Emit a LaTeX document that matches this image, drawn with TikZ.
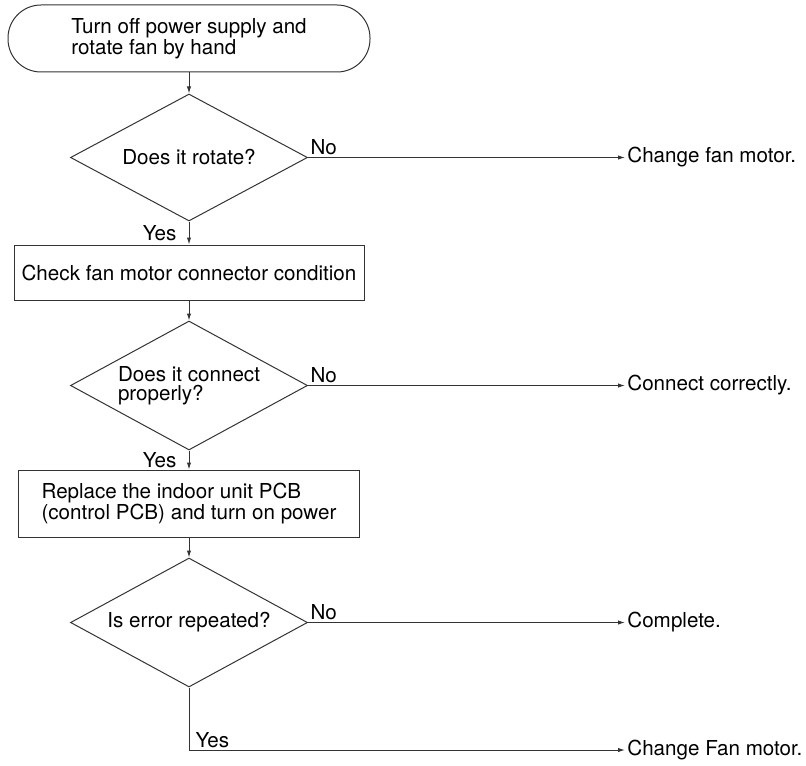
\documentclass[tikz,border=0pt]{standalone}
\usepackage{fontspec}
\setmainfont{TeX Gyre Heros}
\usetikzlibrary{arrows.meta, positioning, shapes.geometric}
\definecolor{flowink}{HTML}{333333}
\tikzset{
  termbox/.style={draw=flowink, rounded corners=16.5pt, align=left,
    minimum height=33.5pt, minimum width=181pt, inner sep=0pt, line width=0.5pt},
  procbox/.style={draw=flowink, align=left,
    minimum height=27.5pt, minimum width=175pt, inner sep=0pt, line width=0.5pt},
  decbox/.style={diamond, draw=flowink, aspect=1.84, align=left,
    minimum height=64.5pt, minimum width=118.5pt, inner sep=0pt, line width=0.5pt},
  flow/.style={-{Latex[length=3.5pt, width=2.2pt]}, draw=flowink, line width=0.5pt},
  lbl/.style={inner sep=1pt},
  outtxt/.style={anchor=west, inner sep=1pt}
}
\begin{document}
\begin{tikzpicture}[x=0.5pt, y=-0.5pt, node distance=10pt, font=\fontsize{10.3}{9.6}\selectfont]
\useasboundingbox (0,0) rectangle (806,765);
\node[termbox] (start) at (189,38.5) {Turn off power supply and\\rotate fan by hand};
\node[decbox, minimum height=63.5pt, below=10.5pt of start] (rotq) {Does it rotate?};
\node[procbox, below=11.5pt of rotq] (chk) {Check fan motor connector condition};
\node[decbox, below=10pt of chk] (conq) {Does it connect\\properly?};
\node[procbox, minimum width=170.5pt, minimum height=33.5pt, below=9.5pt of conq] (pcb) {Replace the indoor unit PCB\\(control PCB) and turn on power};
\node[decbox, below=10pt of pcb] (errq) {Is error repeated?};
\coordinate (rx) at (625,0);
\coordinate (corner) at (189,750);
\node[outtxt] (chgfan) at (rotq.east -| rx) {Change fan motor.};
\node[outtxt] (fixcon) at (conq.east -| rx) {Connect correctly.};
\node[outtxt] (done) at (errq.east -| rx) {Complete.};
\node[outtxt] (newfan) at (corner -| rx) {Change Fan motor.};
\draw[flow] (start) -- (rotq);
\draw[flow] (rotq) -- node[lbl, left=5pt]{Yes} (chk);
\draw[flow] (rotq.east) -- node[lbl, pos=0, above right]{No} (chgfan);
\draw[flow] (chk) -- (conq);
\draw[flow] (conq) -- node[lbl, left=5pt]{Yes} (pcb);
\draw[flow] (conq.east) -- node[lbl, pos=0, above right]{No} (fixcon);
\draw[flow] (pcb) -- (errq);
\draw[flow] (errq.east) -- node[lbl, pos=0, above right]{No} (done);
\draw[flow] (errq) -- (corner) -- node[lbl, pos=0, above right, xshift=2pt]{Yes} (newfan);
\end{tikzpicture}
\end{document}
